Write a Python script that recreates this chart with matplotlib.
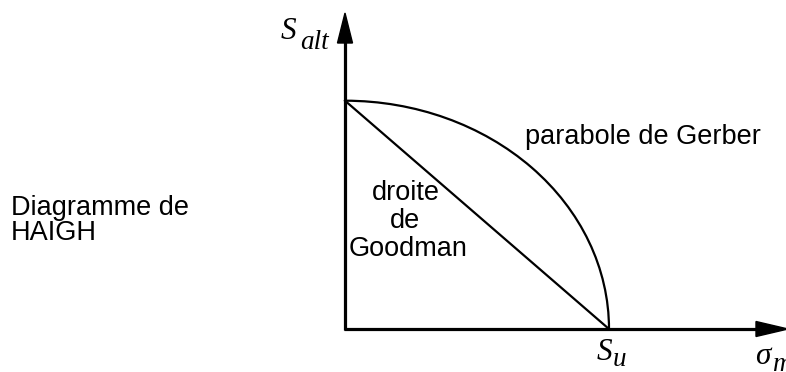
import numpy as np
import matplotlib.pyplot as plt
from matplotlib.patches import Arc, Polygon

# DATA: Haigh diagram (normalised values)
s_alt = 1.0          # endurance limit on the alternating axis
s_u = 1.0            # ultimate strength on the mean axis
goodman_x = [0.0, s_u]
goodman_y = [s_alt, 0.0]

# LAYOUT (pixels of the 786x372 picture)
W, H = 786, 372
ox, oy = 345, 329          # origin in pixels
kx, ky = 264.0, 228.3      # pixels per unit

def dx(p):
    return (p - ox) / kx

def dy(p):
    return (oy - p) / ky

fig = plt.figure(figsize=(W / 100, H / 100), dpi=100)
fig.patch.set_facecolor('white')
ax = fig.add_axes([0, 0, 1, 1])
ax.set_xlim(dx(0), dx(W))
ax.set_ylim(dy(H), dy(0))
ax.axis('off')

# AXES WITH ARROWS
ax.plot([0, 0], [dy(oy + 1), dy(40)], color='black', lw=2.3, solid_capstyle='butt')
ax.plot([dx(ox - 1), dx(760)], [0, 0], color='black', lw=2.3, solid_capstyle='butt')
ax.add_patch(Polygon([[dx(ox - 7.5), dy(43)], [dx(ox + 7.5), dy(43)], [0, dy(13)]],
                     closed=True, color='black'))
ax.add_patch(Polygon([[dx(756), dy(oy - 7.5)], [dx(756), dy(oy + 7.5)], [dx(788), 0]],
                     closed=True, color='black'))

# GOODMAN LINE AND GERBER CURVE
ax.plot(goodman_x, goodman_y, color='black', lw=1.6)
ax.add_patch(Arc((0, 0), 2 * s_u, 2 * s_alt, theta1=0, theta2=90, color='black', lw=1.6))

# TEXTS
sans = dict(family='Liberation Sans', fontsize=19.5, color='black', va='baseline')
serif = dict(family='Liberation Serif', style='italic', color='black', va='baseline')

def fx(p):
    return p / W

def fy(p):
    return 1 - p / H

fig.text(fx(525), fy(144), "parabole de Gerber", ha='left', **sans)
fig.text(fx(406), fy(200), "droite", ha='center', **sans)
fig.text(fx(405), fy(228), "de", ha='center', **sans)
fig.text(fx(408), fy(256), "Goodman", ha='center', **sans)
fig.text(fx(11), fy(215), "Diagramme de", ha='left', **sans)
fig.text(fx(11), fy(240), "HAIGH", ha='left', **sans)

# axis labels (the sigma_m label runs off the right edge, as in the original)
fig.text(fx(281), fy(39), "S", ha='left', fontsize=22.5, **serif)
fig.text(fx(300), fy(49), "alt", ha='left', fontsize=19.5, **serif)
fig.text(fx(597), fy(360), "S", ha='left', fontsize=22.5, **serif)
fig.text(fx(613), fy(366), "u", ha='left', fontsize=19.5, **serif)
fig.text(fx(755), fy(364), "σ", ha='left', fontsize=22.5, **serif)
fig.text(fx(772), fy(371), "m", ha='left', fontsize=19.5, **serif)

fig.savefig('out.png', dpi=100, facecolor='white')
